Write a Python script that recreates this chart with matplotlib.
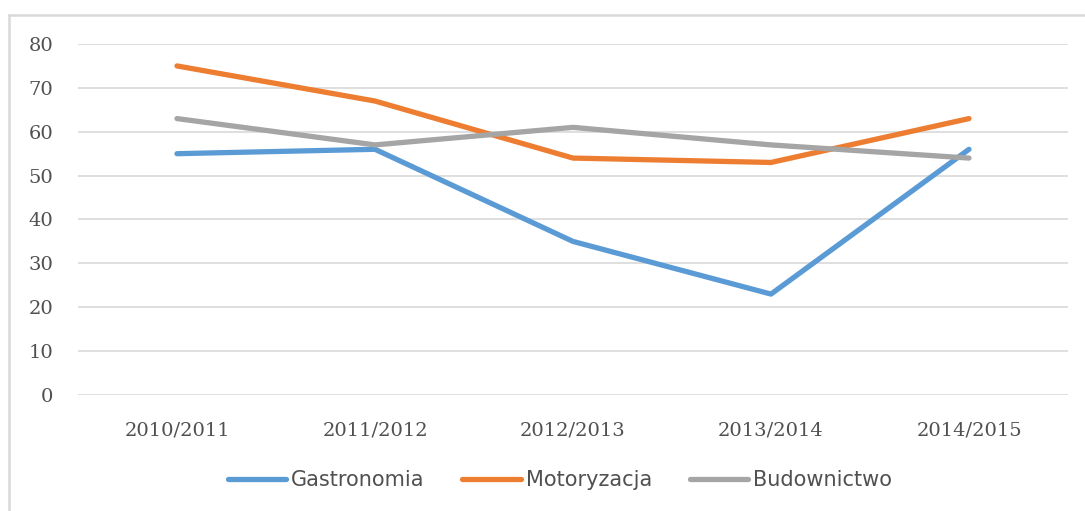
# wykres liniowy: trzy kierunki w kolejnych latach
import matplotlib.pyplot as plt
from matplotlib.lines import Line2D

lata = ['2010/2011', '2011/2012', '2012/2013', '2013/2014', '2014/2015']
gastronomia = [55, 56, 35, 23, 56]
motoryzacja = [75, 67, 54, 53, 63]
budownictwo = [63, 57, 61, 57, 54]

fig = plt.figure(figsize=(10.85, 5.11), dpi=100)
ax = fig.add_axes([78 / 1085, 1 - 395 / 511, 990 / 1085, 351 / 511])

x = range(len(lata))
ax.plot(x, gastronomia, color='#5B9BD5', lw=3.8, label='Gastronomia', solid_capstyle='round')
ax.plot(x, motoryzacja, color='#ED7D31', lw=3.8, label='Motoryzacja', solid_capstyle='round')
ax.plot(x, budownictwo, color='#A5A5A5', lw=3.8, label='Budownictwo', solid_capstyle='round')

ax.set_xlim(-0.5, len(lata) - 0.5)
ax.set_ylim(0, 80)
ax.set_yticks(range(0, 81, 10))
ax.set_xticks(list(x))
ax.set_xticklabels(lata)
ax.grid(axis='y', color='#d9d9d9', lw=1.2)
ax.set_axisbelow(True)
for s in ax.spines.values():
    s.set_visible(False)
ax.tick_params(length=0, labelsize=14, labelcolor='#505050')
ax.tick_params(axis='y', pad=18)
ax.tick_params(axis='x', pad=19)
for t in ax.get_xticklabels() + ax.get_yticklabels():
    t.set_family('DejaVu Serif')

# ramka wykresu (tylko góra i lewa strona widoczne)
top = 1 - 15 / 511
left = 9 / 1085
fig.lines.append(Line2D([left, 1.0], [top, top], transform=fig.transFigure,
                        color='#d9d9d9', lw=1.8))
fig.lines.append(Line2D([left, left], [0, top], transform=fig.transFigure,
                        color='#d9d9d9', lw=1.8))

fig.legend(loc='center', bbox_to_anchor=(560 / 1085, 1 - 480 / 511), ncol=3,
           frameon=False, handlelength=2.8, handletextpad=0.25, columnspacing=1.8,
           prop={'family': ['Liberation Sans Narrow', 'DejaVu Sans'], 'size': 15},
           labelcolor='#505050')

plt.savefig('out.png', dpi=100)
